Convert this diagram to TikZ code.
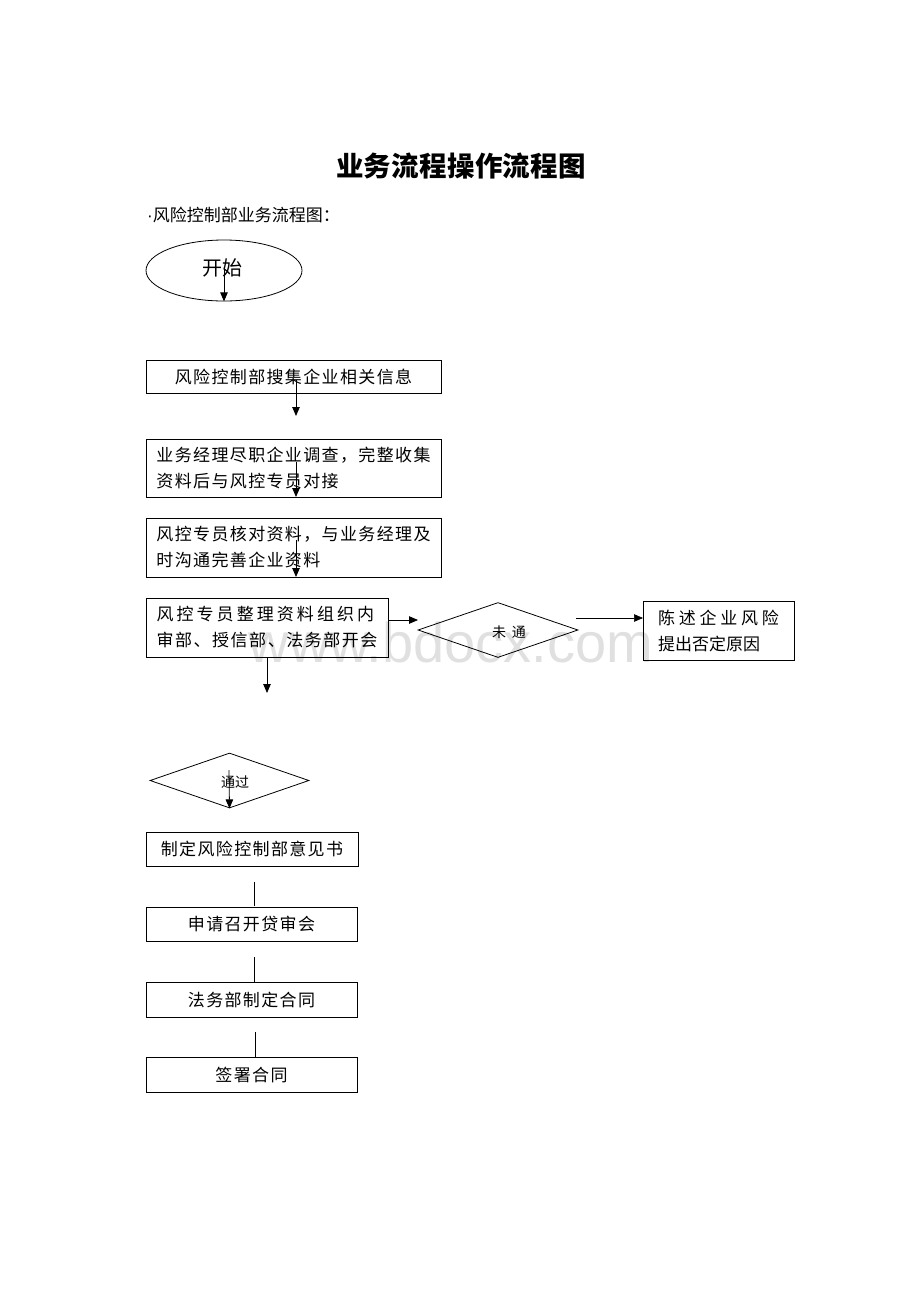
\documentclass[tikz,border=0pt]{standalone}
\usepackage{fontspec}
\setmainfont{Noto Sans CJK SC}
\newfontfamily\wmfont{Liberation Sans}
\usetikzlibrary{shapes.geometric,arrows.meta}
\newcommand{\lsp}[1]{\addfontfeature{LetterSpace=#1}}
\begin{document}
\begin{tikzpicture}[x=1pt,y=-1pt,
  box/.style={draw, line width=0.8pt, rectangle, inner sep=0pt, align=left,
    font=\fontsize{17}{26}\selectfont\lsp{8}},
  dia/.style={draw, line width=0.8pt, diamond, inner sep=0pt},
  arr/.style={-{Triangle[length=9pt,width=7.5pt]}, line width=0.8pt},
  ln/.style={line width=0.8pt}]
\useasboundingbox (0,0) rectangle (920,1302);
% watermark
\node[text=black!12, font=\wmfont\fontsize{56}{56}\selectfont, anchor=base] (wm) at (451,662) {www.bdocx.com};
% titles
\node[font=\fontsize{27.5}{28}\selectfont\bfseries\addfontfeature{LetterSpace=1}] (title) at (461,166) {业务流程操作流程图};
\node[font=\fontsize{17}{17}\selectfont, anchor=west, inner sep=0pt] (sub) at (147,215) {{\wmfont\fontsize{17}{17}\selectfont·}风险控制部业务流程图：};
% nodes
\node[draw, line width=0.8pt, ellipse, minimum width=156pt, minimum height=61pt, inner sep=0pt] (start) at (224,270.5) {};
\node[font=\fontsize{20}{20}\selectfont] (starttxt) at (222,268) {开始};
\node[box, minimum width=295pt, minimum height=33pt, align=center] (b1) at (293.5,376.5) {风险控制部搜集企业相关信息};
\node[box, minimum width=295pt, minimum height=58pt] (b2) at (293.5,468) {业务经理尽职企业调查，完整收集\\资料后与风控专员对接};
\node[box, minimum width=295pt, minimum height=59pt] (b3) at (293.5,547.5) {风控专员核对资料，与业务经理及\\时沟通完善企业资料};
\node[box, minimum width=242pt, minimum height=59pt, font=\fontsize{17}{26}\selectfont] (b4) at (267,627.5) {{\lsp{18}风控专员整理资料组织内}\\{\lsp{9}审部、授信部、法务部开会}};
\node[dia, minimum width=160pt, minimum height=55pt] (d1) at (498,630) {};
\node[font=\fontsize{14}{14}\selectfont] (d1txt) at (509,632) {未\hspace{6pt}通};
\node[box, minimum width=151pt, minimum height=59pt, font=\fontsize{17}{26}\selectfont] (b5) at (718.5,630.5) {{\lsp{22}陈述企业风险}\\提出否定原因};
\node[dia, minimum width=159pt, minimum height=55pt] (d2) at (229.5,780.5) {};
\node[font=\fontsize{14}{14}\selectfont] (d2txt) at (235,782) {通过};
\node[box, minimum width=212pt, minimum height=34pt, align=center, line width=1pt] (b6) at (252,849) {制定风险控制部意见书};
\node[box, minimum width=211pt, minimum height=34pt, align=center] (b7) at (251.5,924) {申请召开贷审会};
\node[box, minimum width=211pt, minimum height=35pt, align=center] (b8) at (251.5,999.5) {法务部制定合同};
\node[box, minimum width=211pt, minimum height=35pt, align=center] (b9) at (251.5,1074.5) {签署合同};
% connector points
\coordinate (s0) at (224,269);
\coordinate (p1a) at (296,380); \coordinate (p1b) at (296,416);
\coordinate (p2a) at (296,462); \coordinate (p2b) at (296,497);
\coordinate (p3a) at (296,540); \coordinate (p3b) at (296,577);
\coordinate (p4a) at (388,620); \coordinate (p4b) at (418,620);
\coordinate (p5a) at (576,618); \coordinate (p5b) at (643,618);
\coordinate (p6a) at (267,657); \coordinate (p6b) at (267,693);
\coordinate (p7a) at (229,770);
\coordinate (l1a) at (254,882); \coordinate (l1b) at (254,906);
\coordinate (l2a) at (254,957); \coordinate (l2b) at (254,982);
\coordinate (l3a) at (255,1032); \coordinate (l3b) at (255,1057);
% connectors
\draw[arr] (s0) -- (start.south);
\draw[arr] (p1a) -- (p1b);
\draw[arr] (p2a) -- (p2b);
\draw[arr] (p3a) -- (p3b);
\draw[arr] (p4a) -- (p4b);
\draw[arr, line width=0.6pt] (p5a) -- (p5b);
\draw[arr] (p6a) -- (p6b);
\draw[arr] (p7a) -- (d2.south);
\draw[ln] (l1a) -- (l1b);
\draw[ln] (l2a) -- (l2b);
\draw[ln] (l3a) -- (l3b);
\end{tikzpicture}
\end{document}
